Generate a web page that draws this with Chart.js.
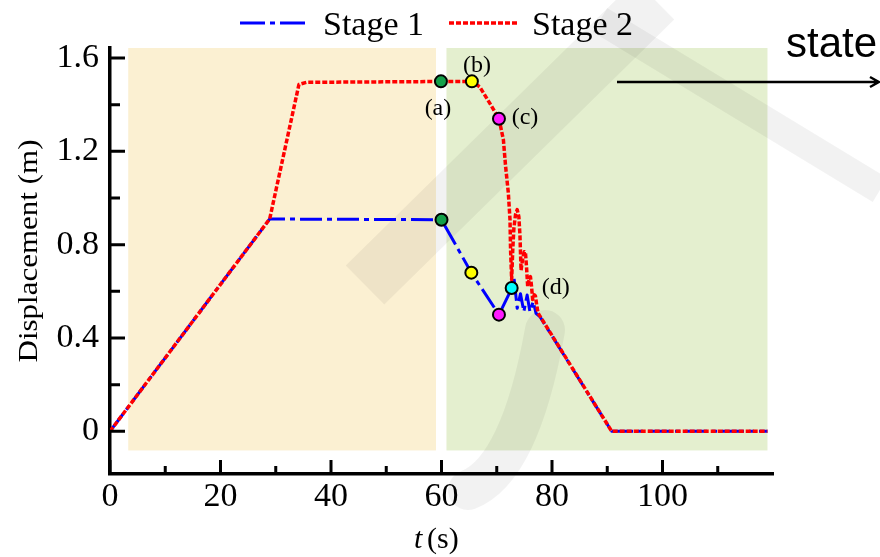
<!DOCTYPE html>
<html>
<head>
<meta charset="utf-8">
<script src="https://cdn.jsdelivr.net/npm/chart.js@4.4.1/dist/chart.umd.min.js"></script>
<style>
html, body { margin: 0; padding: 0; background: #fff; }
#wrap { width: 880px; height: 557px; }
</style>
</head>
<body>
<div id="wrap"><canvas id="chart" width="880" height="557"></canvas></div>
<script>
// time (s) and displacement (m)
var stage1T = [0, 28.9, 60.0, 65.4, 70.4, 72.8, 73.1, 73.7, 74.3, 74.9, 75.5, 76.0, 76.6, 77.1, 77.8, 90.8, 119];
var stage1D = [0, 0.91, 0.907, 0.68, 0.5, 0.617, 0.663, 0.527, 0.59, 0.513, 0.584, 0.513, 0.556, 0.506, 0.492, 0, 0];

var stage2T = [0, 28.9, 34.2, 35.6, 65.5, 66.9, 68.7, 70.4, 71.2, 71.6, 72.1, 72.4, 72.5, 72.7,
               72.9, 73.1, 73.4, 73.7, 74.0, 74.2, 74.4, 74.7, 75.0, 75.2, 75.4, 75.6, 75.9, 76.1,
               76.3, 76.5, 76.8, 77.0, 77.3, 77.5, 90.8, 119];
var stage2D = [0, 0.91, 1.487, 1.496, 1.5, 1.477, 1.408, 1.34, 1.25, 1.136, 1.021, 0.907, 0.778, 0.649,
               0.78, 0.87, 0.93, 0.95, 0.92, 0.84, 0.69, 0.74, 0.77, 0.765, 0.70, 0.62, 0.655, 0.663,
               0.62, 0.565, 0.585, 0.58, 0.53, 0.506, 0, 0];

// marked states
var markT = [59.9, 65.5, 70.4, 60.0, 65.4, 70.4, 72.7];
var markD = [1.5, 1.5, 1.34, 0.907, 0.68, 0.5, 0.614];
var markColors = ['#13a04a', '#ffff00', '#ff1aff', '#13a04a', '#ffff00', '#ff1aff', '#00ffff'];

// labels (a)-(d), attached to marks 0,1,2,6
var stateLabels = ['(a)', '(b)', '(c)', '(d)'];
var stateLabelMark = [0, 1, 2, 6];
var stateLabelShift = [[-3, 27], [5, -16], [26, -1], [44, 0]];

var xTicks = [0, 20, 40, 60, 80, 100];
var xMinor = [10, 30, 50, 70, 90, 110];
var yTicks = [0, 0.4, 0.8, 1.2, 1.6];
var yMinor = [0.2, 0.6, 1.0, 1.4];

// shaded phases [t0, t1, d0, d1]
var phase1 = [3.3, 59.0, -0.082, 1.643];
var phase2 = [60.9, 119.0, -0.082, 1.643];

var serif = "'Liberation Serif', 'Times New Roman', serif";

function pts(t, d) {
    var r = [];
    for (var i = 0; i < t.length; i++) r.push({x: t[i], y: d[i]});
    return r;
}

// faint background watermark strokes (page pixels)
function watermark(ctx) {
    ctx.save();
    ctx.strokeStyle = 'rgba(0,0,0,0.05)';
    ctx.lineCap = 'butt';
    ctx.lineWidth = 55;
    ctx.beginPath(); ctx.moveTo(365, 285); ctx.lineTo(655, 0); ctx.stroke();
    ctx.lineWidth = 28;
    ctx.beginPath(); ctx.moveTo(600, 20); ctx.lineTo(880, 190); ctx.stroke();
    ctx.lineWidth = 40;
    ctx.lineCap = 'round';
    ctx.beginPath(); ctx.moveTo(545, 330); ctx.quadraticCurveTo(520, 470, 468, 490); ctx.stroke();
    ctx.restore();
}

var decor = {
    id: 'decor',
    beforeDatasetsDraw: function(chart) {
        var ctx = chart.ctx, xs = chart.scales.x, ys = chart.scales.y;
        ctx.save();
        function band(p, col) {
            var x0 = xs.getPixelForValue(p[0]), x1 = xs.getPixelForValue(p[1]);
            var y0 = ys.getPixelForValue(p[2]), y1 = ys.getPixelForValue(p[3]);
            ctx.fillStyle = col;
            ctx.fillRect(x0, y1, x1 - x0, y0 - y1);
        }
        band(phase1, '#fbf0d2');
        band(phase2, '#e4efcf');
        ctx.restore();
        watermark(ctx);
    },
    afterDatasetsDraw: function(chart) {
        var ctx = chart.ctx, xs = chart.scales.x, ys = chart.scales.y, i, p;
        var ca = chart.chartArea;
        ctx.save();
        // inward ticks
        ctx.strokeStyle = '#000';
        ctx.lineWidth = 3;
        ctx.beginPath();
        for (i = 0; i < xTicks.length; i++) { p = xs.getPixelForValue(xTicks[i]); ctx.moveTo(p, ca.bottom); ctx.lineTo(p, ca.bottom - 14); }
        for (i = 0; i < xMinor.length; i++) { p = xs.getPixelForValue(xMinor[i]); ctx.moveTo(p, ca.bottom); ctx.lineTo(p, ca.bottom - 8); }
        for (i = 0; i < yTicks.length; i++) { p = ys.getPixelForValue(yTicks[i]); ctx.moveTo(ca.left, p); ctx.lineTo(ca.left + 15, p); }
        for (i = 0; i < yMinor.length; i++) { p = ys.getPixelForValue(yMinor[i]); ctx.moveTo(ca.left, p); ctx.lineTo(ca.left + 10, p); }
        ctx.stroke();

        // state labels
        ctx.fillStyle = '#000';
        ctx.font = '24px ' + serif;
        ctx.textAlign = 'center';
        ctx.textBaseline = 'middle';
        for (i = 0; i < stateLabels.length; i++) {
            var m = stateLabelMark[i];
            ctx.fillText(stateLabels[i], xs.getPixelForValue(markT[m]) + stateLabelShift[i][0], ys.getPixelForValue(markD[m]) + stateLabelShift[i][1]);
        }

        // axis titles
        ctx.textBaseline = 'alphabetic';
        ctx.save();
        ctx.translate(27, 251);
        ctx.rotate(-Math.PI / 2);
        ctx.font = '27px ' + serif;
        var yt = 'Displacement (m)';
        var w = ctx.measureText(yt).width;
        ctx.scale(223 / w, 1);
        ctx.fillText(yt, 0, 10);
        ctx.restore();

        ctx.textAlign = 'left';
        ctx.font = 'italic 30px ' + serif;
        ctx.fillText('t', 414, 548);
        ctx.font = '30px ' + serif;
        ctx.fillText('(s)', 427, 548);

        // legend
        ctx.lineWidth = 3;
        ctx.strokeStyle = '#0000ff';
        ctx.setLineDash([25, 5, 5, 5]);
        ctx.beginPath(); ctx.moveTo(240, 23); ctx.lineTo(309, 23); ctx.stroke();
        ctx.strokeStyle = '#ff0000';
        ctx.lineWidth = 3.5;
        ctx.setLineDash([5, 2]);
        ctx.beginPath(); ctx.moveTo(449, 23); ctx.lineTo(519, 23); ctx.stroke();
        ctx.setLineDash([]);
        ctx.font = '34px ' + serif;
        ctx.fillText('Stage 1', 323, 35);
        ctx.fillText('Stage 2', 532, 35);

        // state arrow
        ctx.font = "42px 'Liberation Sans', Arial, sans-serif";
        ctx.fillText('state', 786, 57);
        ctx.strokeStyle = '#000';
        ctx.lineWidth = 2.5;
        ctx.beginPath();
        ctx.moveTo(617, 82); ctx.lineTo(879, 82);
        ctx.moveTo(870, 77); ctx.lineTo(879, 82); ctx.lineTo(870, 87);
        ctx.stroke();
        ctx.restore();
    }
};

new Chart(document.getElementById('chart'), {
    type: 'line',
    data: {
        datasets: [
            {
                label: 'marks',
                data: pts(markT, markD),
                showLine: false,
                pointRadius: 6,
                pointBorderWidth: 2,
                pointBorderColor: '#000',
                pointBackgroundColor: markColors,
                order: 0
            },
            {
                label: 'Stage 2',
                data: pts(stage2T, stage2D),
                borderColor: '#ff0000',
                borderWidth: 3.5,
                borderDash: [5, 2],
                borderJoinStyle: 'round',
                pointRadius: 0,
                tension: 0,
                fill: false,
                order: 1
            },
            {
                label: 'Stage 1',
                data: pts(stage1T, stage1D),
                borderColor: '#0000ff',
                borderWidth: 3,
                borderDash: [22, 5, 5, 5],
                borderJoinStyle: 'round',
                pointRadius: 0,
                tension: 0,
                fill: false,
                order: 2
            }
        ]
    },
    options: {
        responsive: false,
        animation: false,
        devicePixelRatio: 1,
        layout: { padding: { top: 48, right: 107, left: 0, bottom: 0 } },
        plugins: { legend: { display: false }, tooltip: { enabled: false } },
        scales: {
            x: {
                type: 'linear',
                min: 0,
                max: 120,
                afterFit: function(s) { s.height = 83; },
                afterBuildTicks: function(s) { s.ticks = xTicks.map(function(v) { return {value: v}; }); },
                grid: { display: false, drawTicks: false },
                border: { display: true, color: '#000', width: 3.5 },
                ticks: { font: { family: serif, size: 34 }, color: '#000', padding: 3, maxRotation: 0, autoSkip: false }
            },
            y: {
                type: 'linear',
                min: -0.183,
                max: 1.643,
                afterFit: function(s) { s.width = 110; },
                afterBuildTicks: function(s) { s.ticks = yTicks.map(function(v) { return {value: v}; }); },
                grid: { display: false, drawTicks: false },
                border: { display: true, color: '#000', width: 3.5 },
                ticks: { font: { family: serif, size: 34 }, color: '#000', padding: 11,
                         callback: function(v) { return String(v); } }
            }
        }
    },
    plugins: [decor]
});
</script>
</body>
</html>
